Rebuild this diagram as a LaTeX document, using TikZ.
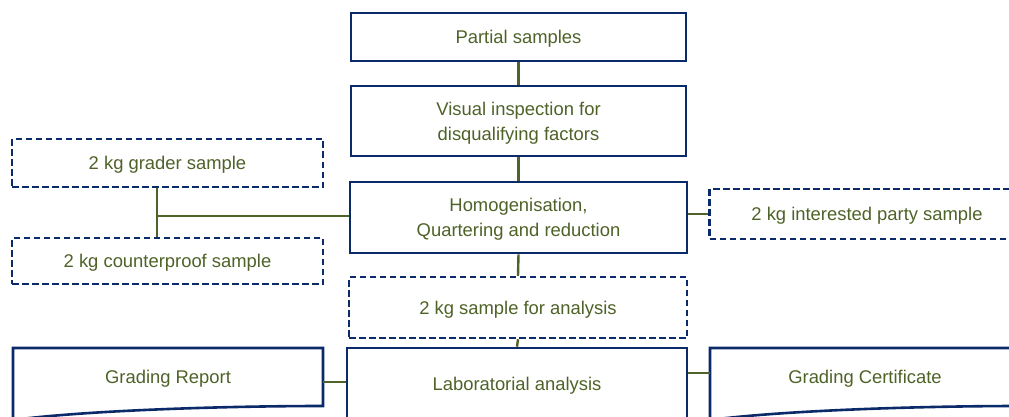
\documentclass[tikz,border=0pt]{standalone}
\usepackage{fontspec}
\setmainfont{Liberation Sans}
\definecolor{navy}{HTML}{0B2A6A}
\definecolor{olive}{HTML}{4F6228}
\begin{document}
\begin{tikzpicture}[x=1pt,y=-1pt,
  every node/.style={font=\fontsize{18.4}{25}\selectfont, text=olive, align=center, inner sep=0pt, text depth=-1.5pt},
  solidbox/.style={draw=navy, line width=2.6pt, fill=white},
  dashbox/.style={draw=navy, line width=2.4pt, fill=white, dash pattern=on 6.5pt off 3.5pt},
  docshape/.style={draw=navy, line width=2.6pt, fill=white},
  link/.style={draw=olive, line width=2.4pt}]
\useasboundingbox (0,0) rectangle (1009,417);
\clip (0,0) rectangle (1009,417);
% main column
\node[solidbox, minimum width=335pt, minimum height=48pt] (partial) at (518.5,37) {Partial samples};
\node[solidbox, minimum width=335pt, minimum height=70pt] (visual) at (518.5,121) {Visual inspection for\\disqualifying factors};
\node[solidbox, minimum width=337pt, minimum height=71pt] (homog) at (518.5,217.5) {Homogenisation,\\Quartering and reduction};
\node[dashbox, minimum width=338pt, minimum height=61pt] (sample) at (518,307.5) {2 kg sample for analysis};
\node[solidbox, minimum width=340pt, minimum height=80pt] (lab) at (517,388) {};
\node at (517,384) (labtext) {Laboratorial analysis};
% side samples
\node[dashbox, minimum width=311pt, minimum height=48pt] (grader) at (167.5,163) {2 kg grader sample};
\node[dashbox, minimum width=311pt, minimum height=46pt] (counter) at (167.5,261) {2 kg counterproof sample};
\node[dashbox, minimum width=315pt, minimum height=50pt] (party) at (867,214) {2 kg interested party sample};
% document shapes
\coordinate (rTL) at (13,348);
\coordinate (rTR) at (323,348);
\path[docshape] (rTL) -- (rTR) -- (323,406) .. controls (230,406) and (90,410) .. (13,420) -- cycle;
\node (report) at (168,377) {Grading Report};
\coordinate (cTL) at (710,348);
\coordinate (cTR) at (1020,348);
\path[docshape] (cTL) -- (cTR) -- (1020,406) .. controls (927,406) and (787,410) .. (710,420) -- cycle;
\node (cert) at (865,377) {Grading Certificate};
% connectors
\path[link] (partial.south) -- (visual.north);
\path[link] (visual.south) -- (homog.north);
\path[link] (homog.south) -- (sample.north);
\path[link] (sample.south) -- (lab.north);
\coordinate (j) at (157,216);
\path[link] (homog.west |- j) -- (j);
\path[link] (grader.south -| j) -- (counter.north -| j);
\path[link] (homog.east |- party.west) -- (party.west);
\coordinate (rj) at (323,382);
\path[link] (rj) -- (lab.west |- rj);
\coordinate (cj) at (710,373);
\path[link] (lab.east |- cj) -- (cj);
\end{tikzpicture}
\end{document}
